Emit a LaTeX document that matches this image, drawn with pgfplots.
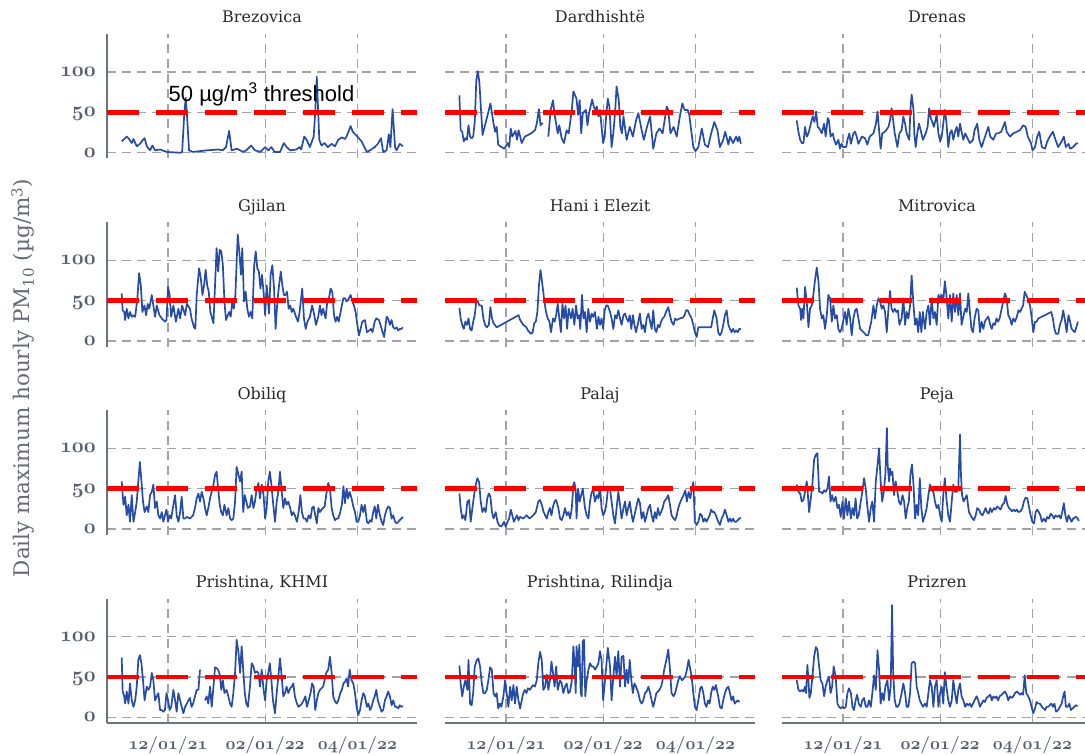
\documentclass[border=0pt]{standalone}
\usepackage{fontspec}
\usepackage{pgfplots}
\pgfplotsset{compat=1.18}
\newfontfamily\titlefont{DejaVu Serif}
\newfontfamily\annofont{Liberation Sans}
\definecolor{lineblue}{RGB}{38,76,168}
\definecolor{gridgray}{RGB}{160,163,170}
\definecolor{axisgray}{RGB}{110,115,125}
\definecolor{tickgray}{RGB}{88,96,112}
\definecolor{titlecol}{RGB}{40,40,40}
\definecolor{labgray}{RGB}{100,106,118}
\newcommand\osn[1]{$\mathnormal{#1}$}
\pgfplotsset{
  panel/.style={
    scale only axis, width=310pt, height=124.4pt,
    xmin=-9, xmax=189, ymin=-7, ymax=147,
    axis lines=left, axis line style={-, draw=axisgray, line width=1.6pt},
    xtick={30,92,151}, ytick={0,50,100},
    xticklabels={}, yticklabels={},
    major tick length=0pt,
    grid=major, major grid style={gridgray, line width=1.2pt, dash pattern=on 9pt off 6pt},
    title style={font=\titlefont\fontsize{16}{18}\selectfont, text=titlecol, at={(0.5,1)}, anchor=base, yshift=5pt},
    unbounded coords=jump,
    ticklabel style={text=tickgray},
    yticklabel style={font=\fontsize{20.74}{22}\selectfont\boldmath, anchor=base east, inner sep=0pt, xshift=-11pt, yshift=-4.5pt},
    xticklabel style={font=\fontsize{17.28}{20}\selectfont\boldmath, anchor=base, inner sep=0pt, yshift=-27pt},
  },
  leftcol/.style={yticklabels={\osn{0},\osn{50},\osn{100}}},
  notleft/.style={y axis line style={draw=none}},
  bottomrow/.style={xticklabels={{$\mathnormal{12}/\mathnormal{01}/\mathnormal{21}$},{$\mathnormal{02}/\mathnormal{01}/\mathnormal{22}$},{$\mathnormal{04}/\mathnormal{01}/\mathnormal{22}$}}},
  notbottom/.style={x axis line style={draw=none}},
  series/.style={lineblue, line width=1.7pt, line join=round, no marks},
  thresh/.style={red, line width=4.7pt, dash pattern=on 32pt off 17pt, no marks},
}
\begin{document}
\begin{tikzpicture}[x=1pt,y=1pt]
\useasboundingbox (0,0) rectangle (1085,755);
\node[rotate=90, font=\titlefont\fontsize{21.5}{24}\selectfont, text=labgray] at (23,377) {Daily maximum hourly PM\textsubscript{10} (µg/m\textsuperscript{3})};
% Row 1
\begin{axis}[panel, leftcol, notbottom, at={(107pt,596.6pt)}, anchor=south west, title={Brezovica}]
\addplot[series] coordinates {(0.4,14)(3.6,20)(4.7,18)(6.8,12)(7.9,17)(10,8)(12,11)(14,16)(15,18)(16.4,8)(18.5,3)(20,9)(21.7,3)(25,4)(29,1)(37.7,0)(39,1)(40.4,50)(41.3,68)(42.3,40)(43.4,3)(46,1)(55,3)(62,4)(65,3)(67,7)(69,27)(70.6,3)(74,5)(78,1)(80,3)(83,9)(85.5,3)(89,1)(92,7)(94,3)(96,7)(98,1)(101.5,1)(104,12)(105.7,7)(108,3)(112,4)(114,7)(115,4)(117,20)(118.5,16)(120.6,7)(123,20)(124,50)(125,94)(126,45)(126.6,16)(128,9)(130,12)(132,7)(134.5,11)(136.6,8)(138.7,16)(141,19)(143,17)(144,20)(146.6,33)(148,26)(150,22)(153.6,14)(157,1)(159,3)(162,7)(164,11)(166,18)(167.4,1)(169.6,3)(171,23)(172,7)(173.4,54)(175,7)(176,3)(178,11)(180,8)};
\addplot[thresh] coordinates {(-9,50)(189,50)};
\node[font=\annofont\fontsize{22}{24}\selectfont, anchor=base] at (axis cs:89.7,64) {50 µg/m\textsuperscript{3} threshold};
\end{axis}
\begin{axis}[panel, notleft, notbottom, at={(445pt,596.6pt)}, anchor=south west, title={Dardhishtë}]
\addplot[series] coordinates {(0.2,71)(1,28)(2,26)(3,14)(4,18)(5,16)(6,34)(7,20)(8,18)(9,20)(10,38)(11,90)(12,101)(13,86)(14,53)(15,22)(16,30)(18,45)(20,61)(21,49)(22,36)(23,26)(24,32)(25,10)(27,7)(29,5)(31,12)(32,7)(33,30)(34,20)(36,27)(37,16)(38,28)(39,20)(40,12)(42,20)(44,22)(46,24)(48.5,28)(49.6,36)(51,54)(52,34)(53.4,37)(55,nan)(57,20)(58.5,53)(60,65)(61,47)(63,24)(64,34)(65.5,18)(67,12)(68.7,28)(70,24)(72,53)(73,76)(75,67)(76,47)(77,65)(78,24)(79,49)(81,53)(82,34)(83,49)(85,66)(86,57)(87,53)(88,57)(89,45)(90,53)(91,32)(92,12)(93,20)(94,47)(95,67)(96,57)(97.4,7)(98.5,24)(99.6,49)(100.6,82)(102,65)(103,32)(104,24)(105,45)(107,16)(109,32)(111,20)(113,40)(114.5,49)(116.6,28)(118,16)(120,32)(122,45)(124,5)(126,24)(128,30)(130,24)(132.6,57)(133.6,53)(135,24)(137,32)(139,20)(141,45)(142.6,61)(144,53)(146,53)(147,47)(148.5,24)(149.6,7)(151,2)(152.8,7)(155,30)(157,10)(159,7)(161,24)(163,38)(165,28)(166.6,7)(168.7,16)(170,26)(172,10)(173,20)(175,12)(177,20)(178,14)(179,20)(180,11)};
\addplot[thresh] coordinates {(-9,50)(189,50)};
\end{axis}
\begin{axis}[panel, notleft, notbottom, at={(782pt,596.6pt)}, anchor=south west, title={Drenas}]
\addplot[series] coordinates {(0.4,40)(1.5,26)(2.6,16)(3.6,12)(4.7,12)(5.7,32)(6.8,20)(7.9,24)(8.9,32)(10.6,45)(11.7,38)(12.8,51)(13.8,32)(14.9,30)(16.4,24)(17.9,36)(18.9,20)(20.2,43)(21,40)(22,20)(23.4,24)(24.3,16)(25.5,10)(27,16)(28,5)(29,11)(30,7)(32,7)(32.8,16)(34,24)(35,11)(36.6,24)(37.7,26)(38.7,20)(39.8,11)(42,20)(44,18)(45.5,10)(47,20)(49.4,24)(51,36)(52,51)(53,28)(54,5)(55,24)(56.8,26)(59,32)(60,40)(61,55)(62,40)(63,24)(64.7,7)(66,24)(67.4,28)(68.5,45)(69.6,36)(70.6,24)(72.3,16)(73,53)(73.8,72)(75,53)(75.5,24)(76.4,7)(77.4,24)(78.5,36)(79.8,26)(81,16)(82.8,24)(84,32)(85,55)(86,43)(87,38)(88,32)(89.8,47)(90.9,24)(92,14)(93,20)(94,36)(95,53)(96,38)(97.2,7)(98.3,24)(99.4,28)(100.4,16)(101.5,26)(102.6,32)(103.6,20)(104.7,36)(105.7,26)(106.8,16)(108,24)(109,20)(111,12)(113,16)(114,28)(115.7,36)(117,16)(118.5,7)(120,16)(121.7,26)(122.8,32)(124,20)(126,16)(127.7,24)(129,24)(131,26)(133.4,38)(134.5,26)(136.6,20)(138.7,24)(141,26)(143,28)(145,34)(146.6,32)(148,20)(150,12)(151,3)(152.6,7)(154,20)(155.3,26)(157,7)(159,5)(160.4,14)(162,20)(164,26)(165.7,16)(167.4,7)(169.6,14)(171,20)(172.3,7)(174,11)(175,5)(177,7)(178.7,11)(180,12)};
\addplot[thresh] coordinates {(-9,50)(189,50)};
\end{axis}
% Row 2
\begin{axis}[panel, leftcol, notbottom, at={(107pt,408.3pt)}, anchor=south west, title={Gjilan}]
\addplot[series] coordinates {(0.4,59)(1,38)(2,36)(2.6,26)(3.6,40)(4.7,28)(5.7,36)(6.8,30)(7.9,32)(9,30)(10.4,53)(11.5,84)(12.6,69)(13.6,36)(14.9,44)(16,32)(17,46)(18,40)(19.6,57)(20.6,44)(21.7,30)(22.8,44)(24.5,32)(26,28)(28,24)(29,26)(30,67)(31,57)(32,30)(33.4,44)(35,24)(36.6,40)(37.7,28)(39,44)(40.9,32)(42,46)(44,40)(45,28)(46.6,17)(47.4,15)(48.3,57)(49.8,90)(50.9,78)(52,57)(53,69)(54,88)(55,69)(56,61)(57,36)(59,22)(60,69)(61,115)(62,86)(63,113)(64,111)(65,94)(66,49)(67,26)(69,36)(70,30)(71,49)(72,40)(73,57)(74.5,132)(75.5,111)(76.6,82)(77.4,115)(78.5,49)(79.6,61)(80.6,40)(81.7,30)(82.8,36)(83.8,28)(85,94)(86,111)(87,90)(88,86)(89,65)(90,82)(91,61)(92,32)(93,69)(94.5,34)(95.5,82)(96.6,94)(97.7,65)(98.7,15)(99.8,49)(100.9,69)(102,86)(103,69)(104,57)(105,57)(106,61)(107,40)(108,44)(109,36)(110,40)(111.7,30)(113,24)(114,36)(115.7,65)(116.8,28)(117.9,15)(119,24)(120.6,30)(122,44)(123,36)(124.5,20)(125.9,30)(127,44)(128,32)(129,40)(130.6,28)(131.7,49)(132.8,53)(133.8,65)(134.9,61)(136,32)(137,24)(138,30)(139,24)(141,44)(142,53)(143,53)(144,49)(145,51)(146.6,57)(147.7,49)(148.7,44)(149.8,36)(150.9,20)(151.9,7)(153,15)(154,24)(155.7,26)(157,11)(158.5,13)(159.6,15)(160.6,11)(162,24)(163,28)(164.7,26)(165.7,20)(167,11)(168,5)(169.6,30)(170.6,28)(171.7,20)(172.8,26)(173.8,17)(175,15)(176,17)(177,13)(178,15)(179,15)(180,17)};
\addplot[thresh] coordinates {(-9,50)(189,50)};
\end{axis}
\begin{axis}[panel, notleft, notbottom, at={(445pt,408.3pt)}, anchor=south west, title={Hani i Elezit}]
\addplot[series] coordinates {(0.2,41)(1,28)(2,20)(3,15)(4,24)(5,20)(6,28)(7,15)(8,13)(9,24)(10,32)(11,49)(12,49)(13,44)(14.5,44)(15.5,28)(16.6,20)(17.7,17)(19,20)(20,42)(21,28)(22,22)(24,17)(38,32)(39,26)(41,20)(43,17)(44,13)(46,9)(47,11)(48,22)(49,24)(50,36)(51,69)(52,88)(53,73)(54.5,49)(55.5,36)(56.6,28)(57.7,24)(58.7,11)(60,28)(61,24)(62,32)(63,46)(64,28)(65,11)(66,46)(67,28)(68,44)(69,15)(70,40)(71.5,28)(72.5,40)(73.6,20)(74.7,44)(75.7,28)(76.6,32)(77.4,15)(78.5,57)(79.4,28)(80.4,36)(81.5,11)(82.5,40)(83.6,24)(84.7,34)(85.7,30)(86.8,36)(88,15)(89,30)(90,20)(91,28)(92,15)(93,38)(94,44)(95,44)(96.4,36)(97.4,28)(98.5,15)(99.6,32)(100.6,28)(101.7,38)(102.8,28)(103.8,20)(105,32)(106,34)(107,28)(108,24)(109,32)(110,15)(111,32)(112,20)(113,11)(114.5,24)(115.5,34)(116.6,15)(117.7,20)(118.7,11)(119.8,28)(120.9,34)(122,24)(123,15)(124,38)(125,15)(126,11)(127,20)(128,17)(129,24)(130,28)(131,30)(132.6,38)(133.6,42)(134.7,32)(135.7,24)(137,20)(138,28)(139,26)(141,28)(143,29)(144,32)(145,38)(146,38)(147.4,32)(148.5,28)(149.6,20)(150.6,11)(151.7,5)(152.8,17)(161,17)(162,28)(163,38)(164.5,28)(165.5,11)(166.6,7)(167.7,11)(168.7,20)(169.8,32)(170.9,38)(172,20)(173,15)(174,11)(175,15)(176,11)(177,13)(178,11)(179,15)(180,15)};
\addplot[thresh] coordinates {(-9,50)(189,50)};
\end{axis}
\begin{axis}[panel, notleft, notbottom, at={(782pt,408.3pt)}, anchor=south west, title={Mitrovica}]
\addplot[series] coordinates {(0.4,66)(1.5,44)(2.6,40)(3.2,26)(4,40)(4.7,28)(5.7,67)(6.8,49)(7.9,17)(8.9,40)(10,44)(11,57)(12,74)(13.2,91)(14.3,74)(15.3,40)(16.4,28)(17.4,32)(18.5,15)(19.6,32)(20.6,57)(21.7,53)(22.8,24)(23.8,44)(24.9,28)(26,32)(27,15)(28,11)(29,15)(30,24)(31.3,36)(32.3,20)(33.4,40)(34.5,28)(35.5,7)(36.6,28)(37.7,38)(38.7,40)(39.8,28)(40.9,15)(43,11)(45,7)(46,7)(47,15)(48,24)(49.4,44)(50.4,28)(51.5,44)(52.6,53)(53.6,49)(54.7,40)(55.7,44)(56.8,36)(57.9,11)(59,40)(60,62)(61,40)(62,36)(63,40)(64,36)(65,38)(66,20)(67.4,28)(68.5,53)(69.6,20)(70.6,36)(71.7,28)(72.8,44)(73.8,81)(75,44)(76,20)(77,28)(78,11)(79,36)(80,11)(81,36)(82.3,15)(83.4,36)(84.5,44)(85.5,20)(86.6,53)(87.7,28)(88.7,36)(89.8,20)(90.9,57)(92,53)(93,57)(94,49)(95,74)(96,57)(97.2,28)(98.3,57)(99.4,24)(100.4,59)(101.5,36)(102.6,57)(103.6,32)(104.7,59)(105.7,20)(106.8,30)(108,40)(109,36)(110,59)(111,36)(112,15)(113,11)(114,28)(115.3,40)(116.4,38)(117.4,11)(118.5,24)(119.6,15)(120.6,24)(121.7,28)(122.8,30)(124,20)(125,15)(126,22)(127,20)(128,28)(129,24)(130,28)(131.3,40)(132.3,49)(133.4,59)(134.5,53)(135.5,32)(136.6,28)(137.7,20)(138.7,28)(139.8,24)(141,30)(142,38)(143,36)(144,40)(145,44)(146,61)(147,57)(148.3,51)(149.4,44)(150.4,30)(151.5,11)(152.6,24)(153.6,24)(154.7,28)(156.8,30)(159,32)(161,34)(163,36)(164,28)(165,15)(166,9)(167.4,9)(168.5,20)(169.6,26)(170.6,38)(171.7,26)(172.8,11)(174,32)(175,24)(176,15)(177,13)(178,11)(179,17)(180,24)};
\addplot[thresh] coordinates {(-9,50)(189,50)};
\end{axis}
% Row 3
\begin{axis}[panel, leftcol, notbottom, at={(107pt,220.3pt)}, anchor=south west, title={Obiliq}]
\addplot[series] coordinates {(0.4,59)(1.5,30)(2.6,40)(3.6,17)(4.7,30)(5.7,9)(6.8,42)(7.9,9)(9,21)(10,34)(11,59)(12,83)(13,59)(14,34)(15,21)(16.4,28)(17.4,21)(18.5,42)(19.6,46)(20.6,55)(21.7,26)(22.8,34)(23.8,17)(24.9,13)(26,21)(27,9)(28,17)(29,24)(30,9)(31,17)(32,13)(33.4,30)(34.5,42)(35.5,17)(36.6,9)(37.7,21)(38.7,40)(39.8,13)(40.9,13)(42,15)(44,13)(46,17)(47.2,26)(48.3,38)(49.4,44)(50.4,34)(51.5,46)(52.6,38)(53.6,26)(54.7,17)(55.7,26)(56.8,38)(59,55)(60,67)(61,71)(62,50)(63,30)(64,21)(65,17)(66,30)(67.4,17)(68.5,26)(69.6,13)(70.6,11)(71.7,13)(72.8,34)(73.8,77)(75,67)(76,59)(77,71)(78,21)(79,42)(80,34)(81,26)(82.3,28)(83.4,42)(84.5,26)(85.5,34)(86.6,50)(87.7,57)(88.7,38)(89.8,55)(91,42)(92,13)(93,26)(94,59)(95,71)(96,55)(97,34)(98.3,9)(99.4,34)(100.4,46)(101.5,71)(102.6,46)(103.6,26)(104.7,38)(105.7,30)(106.8,34)(108,26)(109,17)(110,21)(111,17)(112.3,9)(113.4,21)(114.5,42)(115.5,21)(116.6,13)(117.7,13)(118.7,9)(119.8,17)(121,13)(122,26)(123,28)(124,17)(125,7)(126,26)(127,21)(128,24)(129,26)(130,28)(131,42)(132.3,57)(133.4,50)(134.5,26)(135.5,17)(136.6,11)(137.7,13)(138.7,13)(140,21)(141,30)(142,53)(143,32)(144,50)(145,38)(146,46)(147.2,38)(148.3,28)(149.4,21)(150.4,9)(151.5,9)(152.6,17)(153.6,30)(154.7,21)(155.7,30)(157,9)(158,7)(159,11)(160,9)(161,21)(162,28)(163,13)(164,30)(165.3,17)(166.4,9)(167.4,5)(168.5,17)(169.6,24)(170.6,28)(171.7,26)(172.8,13)(173.8,17)(175,9)(176,7)(177,9)(178,11)(179,13)(180,15)};
\addplot[thresh] coordinates {(-9,50)(189,50)};
\end{axis}
\begin{axis}[panel, notleft, notbottom, at={(445pt,220.3pt)}, anchor=south west, title={Palaj}]
\addplot[series] coordinates {(0.2,44)(1,26)(2,13)(3,17)(4,11)(5.3,34)(6.4,36)(7.4,9)(8.5,26)(9.6,42)(10.6,55)(11.7,63)(12.8,58)(13.8,34)(14.9,21)(16,26)(17,21)(18,38)(19,44)(20,40)(21,21)(22,13)(23.4,21)(24.5,9)(25.5,5)(26.6,3)(27.7,5)(28.7,9)(29.8,3)(30.9,9)(32,13)(33,24)(34,17)(35,9)(36,13)(37,17)(38,11)(39,15)(41,13)(43,17)(45,13)(47.4,17)(49,21)(50.6,34)(51.7,36)(52.8,30)(54,21)(55,17)(56,13)(57,21)(58,26)(59,17)(60,28)(61,34)(62,36)(63.4,26)(64.5,13)(65.5,11)(66.6,17)(67.7,26)(68.7,17)(69.8,21)(70.9,13)(72,26)(73,55)(73.6,58)(74.5,48)(75,13)(76,50)(77,34)(78,42)(79,50)(80.4,26)(81.5,17)(82.6,13)(83.6,34)(84.7,46)(85.7,48)(86.8,34)(88,42)(89,38)(90,53)(91,26)(92,17)(93,21)(94,30)(95,48)(96.4,50)(97.4,34)(98.5,17)(99.6,7)(100.6,26)(101.7,46)(102.8,30)(103.8,13)(105,26)(106,34)(107,17)(108,26)(109,34)(110,20)(111,9)(112,17)(113,26)(114.5,38)(115.5,32)(116.6,13)(117.7,21)(118.7,9)(119.8,17)(120.9,26)(122,30)(123,17)(124,9)(125,21)(126,13)(127,26)(128,17)(129,21)(130,26)(131,34)(132.6,38)(133.6,42)(134.7,30)(135.7,17)(137,13)(138,11)(139,17)(140,26)(141,32)(142.3,38)(143.4,42)(144.5,48)(145.5,34)(146.6,46)(147.7,38)(148.5,48)(149.6,58)(150.6,9)(151.7,5)(152.8,9)(154,19)(155,17)(156,9)(157,13)(158,9)(159,13)(160,17)(161,24)(162,21)(163,21)(164,17)(165.5,9)(166.6,5)(167.7,13)(168.7,17)(169.8,24)(170.9,17)(172,9)(173,13)(174,9)(175,13)(176,9)(177,9)(178,11)(179,13)(180,14)};
\addplot[thresh] coordinates {(-9,50)(189,50)};
\end{axis}
\begin{axis}[panel, notleft, notbottom, at={(782pt,220.3pt)}, anchor=south west, title={Peja}]
\addplot[series] coordinates {(0.4,55)(1.5,46)(2.6,44)(3.6,34)(4.7,36)(5.7,46)(6.8,59)(7.4,46)(8.3,21)(9.4,38)(10.4,55)(11.5,86)(12.6,92)(13.6,94)(14.7,46)(15.7,46)(16.8,44)(17.9,48)(18.9,46)(20,50)(21,65)(22,34)(23,42)(24,34)(25.3,40)(26.4,26)(27.4,30)(28.5,15)(29.6,34)(30.6,13)(31.7,38)(32.8,17)(33.8,34)(35,13)(36,26)(37,17)(38,38)(39,13)(40,17)(41.3,34)(42.3,46)(43.4,63)(44.5,50)(45.5,28)(46.6,9)(47.7,26)(48.7,34)(49.8,9)(50.9,59)(52,79)(53,100)(54,59)(55,34)(56,46)(57,67)(58,125)(58.5,79)(59.4,59)(60,75)(60.6,67)(61.5,71)(62.6,42)(63.6,59)(64.7,46)(65.7,34)(66.8,30)(68,42)(69,34)(70,13)(71,26)(72,34)(73,67)(74,80)(75,55)(76,13)(77,30)(78,17)(79,63)(80,26)(81,9)(82.3,17)(83.4,26)(84.5,42)(85.5,55)(86.6,48)(87.7,46)(88.7,34)(89.8,26)(90.9,30)(92,17)(93,9)(94,42)(95,63)(96,38)(97.2,17)(98.3,9)(99.4,34)(100.4,55)(101.5,46)(102.6,46)(103.6,50)(104.7,117)(105.3,67)(106,42)(107,34)(108,38)(109,42)(110.4,21)(111.5,17)(112.6,13)(113.6,11)(114.7,17)(115.7,26)(116.8,24)(118,19)(119,17)(120,21)(121,26)(122,21)(123,19)(124,26)(125,21)(126.4,26)(127.4,24)(128.5,28)(129.6,26)(130.6,24)(131.7,30)(132.8,32)(133.8,41)(135,30)(136,26)(137,24)(138,22)(139,24)(140,22)(141,24)(142,21)(143.4,22)(144.5,26)(145.5,34)(146.6,39)(147.7,38)(148.7,28)(149.8,17)(150.9,9)(152,7)(153,21)(154,24)(155,21)(156,17)(157,9)(158.3,13)(159.4,9)(160.4,15)(161.5,13)(162.6,19)(163.6,17)(164.7,13)(165.7,17)(166.8,15)(168,17)(169,13)(170,21)(171,32)(172,17)(173,9)(174,17)(175,13)(176,9)(177,13)(178.5,15)(179.6,14)(180.6,10)};
\addplot[thresh] coordinates {(-9,50)(189,50)};
\end{axis}
% Row 4
\begin{axis}[panel, leftcol, bottomrow, at={(107pt,32pt)}, anchor=south west, title={Prishtina, KHMI}]
\addplot[series] coordinates {(0.4,74)(1,32)(2,26)(2.6,17)(3.6,32)(4.7,17)(5.7,42)(6.8,21)(7.9,13)(9,21)(10,38)(11,71)(12,77)(13,67)(14,46)(15,21)(16.4,38)(17.4,34)(18.5,38)(19.6,55)(20.6,46)(21.7,21)(22.8,26)(23.8,30)(24.9,9)(26,9)(27,7)(28,9)(29,30)(30,21)(31,9)(32,13)(33.4,34)(34.5,21)(35.5,7)(36.6,30)(37.7,21)(38.7,13)(39.8,5)(40.9,13)(42,17)(43,21)(44,24)(45,13)(46,17)(47.2,26)(48.3,34)(49.4,34)(50.4,59)(52,nan)(53.6,21)(54.7,26)(55.7,17)(56.8,38)(57.9,13)(59,38)(60,62)(61,61)(62,59)(63,53)(64,34)(65,46)(66,30)(67.4,34)(68.5,26)(69.6,17)(70.6,13)(71.7,30)(72.8,55)(73.8,96)(75,80)(76,55)(77,88)(78,59)(79,30)(80,17)(81,13)(82.3,38)(83.4,67)(84.5,63)(85.5,55)(86.6,57)(87.7,55)(88.7,38)(89.8,59)(91,34)(92,21)(93,46)(94,55)(95,67)(96,46)(97,21)(98.3,5)(99.4,30)(100.4,50)(101.5,73)(102.6,50)(103.6,26)(104.7,30)(105.7,38)(106.8,30)(108,36)(109,38)(110,42)(111,26)(112.3,17)(113.4,13)(114.5,15)(115.5,17)(116.6,21)(117.7,26)(118.7,13)(119.8,21)(121,30)(122,42)(123,38)(124,9)(125,21)(126,30)(127,34)(128,36)(129,38)(130,46)(131,55)(132.3,59)(133.4,75)(134.5,55)(135.5,26)(136.6,20)(137.7,17)(138.7,21)(140,30)(141,34)(142,42)(143,44)(144,48)(145,38)(146,59)(147.2,46)(148.3,42)(149.4,30)(150.4,13)(151.5,3)(152.6,9)(153.6,21)(154.7,30)(155.7,26)(157,13)(158,17)(159,9)(160,13)(161,21)(162,26)(163,34)(164,21)(165.3,13)(166.4,7)(167.4,9)(168.5,21)(169.6,26)(170.6,32)(171.7,26)(172.8,15)(173.8,21)(175,13)(176,13)(177,11)(178,15)(179,13)(180,14)};
\addplot[thresh] coordinates {(-9,50)(189,50)};
\end{axis}
\begin{axis}[panel, notleft, bottomrow, at={(445pt,32pt)}, anchor=south west, title={Prishtina, Rilindja}]
\addplot[series] coordinates {(0.2,64)(1,42)(2,26)(3,38)(4,46)(5.3,34)(6,71)(7,17)(8,15)(9,30)(10,63)(11.3,71)(12.3,73)(13.4,63)(14.5,42)(15.5,30)(16.6,30)(17.7,34)(18.7,46)(19.8,62)(20.9,59)(22,30)(23,26)(24,30)(25,11)(26,17)(27,13)(28.3,26)(29.4,46)(30.4,30)(31.5,13)(32.6,38)(33.6,21)(34.7,40)(35.7,17)(36.8,38)(37.9,21)(39,11)(40,21)(41,30)(42,34)(43,30)(44,36)(45.3,34)(46.4,38)(47.4,40)(48.5,38)(49.6,46)(50.6,67)(51.7,81)(52.8,71)(53.8,34)(54.9,38)(56,53)(57,34)(58,46)(59,69)(60,55)(61,38)(62,63)(63,34)(64.5,46)(65.5,42)(66.6,30)(67.7,38)(68.7,42)(69.8,30)(70.9,32)(72,46)(73,88)(73.6,71)(74.5,30)(75,88)(76,63)(76.8,90)(77.7,30)(78.3,26)(79,94)(79.8,96)(80.6,26)(81.5,46)(82.6,59)(83.6,67)(84.7,63)(85.7,63)(86.8,59)(88,63)(89,67)(90,82)(91,71)(92,21)(93,42)(94,63)(95,86)(96.4,63)(97.4,21)(98.5,50)(99.6,75)(100.6,50)(101.7,82)(102.8,38)(103.8,75)(105,76)(106,38)(107,59)(108,42)(109,71)(110,46)(111,30)(112,42)(113,38)(114.5,30)(115.5,21)(116.6,17)(117.7,21)(118.7,30)(119.8,32)(120.9,38)(122,30)(123,21)(124,13)(125,21)(126,30)(127,32)(128,34)(129,38)(130,46)(131,59)(132.6,73)(133.6,84)(134.7,59)(135.7,30)(137,26)(138,30)(139,38)(140,46)(141,51)(142.3,46)(143.4,48)(144.5,51)(145.5,59)(146.6,71)(147.7,59)(148.5,51)(149.6,30)(150.6,13)(151.7,9)(152.8,21)(154,36)(155,38)(156,30)(157,17)(158,13)(159,21)(160,17)(161,30)(162,38)(163,34)(164,40)(165.5,26)(166.6,13)(167.7,11)(168.7,21)(169.8,30)(170.9,36)(172,38)(173,30)(174,21)(175,26)(176,17)(177,19)(178,21)(179,19)};
\addplot[thresh] coordinates {(-9,50)(189,50)};
\end{axis}
\begin{axis}[panel, notleft, bottomrow, at={(782pt,32pt)}, anchor=south west, title={Prizren}]
\addplot[series] coordinates {(0.4,46)(1.5,34)(2.6,32)(3.6,34)(4.7,32)(5.7,38)(6.4,30)(7.2,65)(7.9,46)(8.5,24)(9.4,30)(10.4,50)(11.5,75)(12.6,87)(13.6,84)(14.7,63)(15.7,46)(16.8,42)(17.9,26)(18.9,38)(20,46)(21,50)(22,30)(23,38)(24,63)(25.3,50)(26.4,17)(27.4,13)(28.5,11)(29.6,13)(30.6,11)(31.7,13)(32.8,30)(33.8,36)(35,30)(36,13)(37,9)(38,21)(39,28)(40,17)(41.3,13)(42.3,21)(43.4,24)(44.5,13)(45.5,13)(46.6,21)(47.7,13)(48.7,30)(49.8,52)(50.9,34)(52,83)(53,59)(54,17)(55,30)(56,21)(57,38)(58.3,46)(59.4,21)(60.4,38)(61.3,139)(62,55)(63,21)(64,13)(65,13)(66,17)(67.4,30)(68.5,42)(69.6,30)(70.6,13)(71.7,13)(72.8,30)(73.8,67)(75,69)(76,67)(77,38)(78,30)(79,21)(80,17)(81,13)(82.3,17)(83.4,13)(84.5,30)(85.5,46)(86.6,38)(87.7,13)(88.7,38)(89.8,46)(90.9,13)(92,30)(93,38)(94,17)(95,56)(96,38)(97.2,21)(98.3,13)(99.4,21)(100.4,46)(101.5,30)(102.6,17)(103.6,34)(104.7,42)(105.7,26)(106.8,21)(108,13)(109,17)(110,15)(111,17)(112,13)(113,17)(114,21)(115.3,26)(116.4,21)(117.4,13)(118.5,17)(119.6,21)(120.6,19)(121.7,24)(122.8,26)(124,28)(125,21)(126,26)(127,24)(128,26)(129,21)(130,26)(131.3,28)(132.3,30)(133.4,32)(134.5,28)(135.5,21)(136.6,26)(137.7,24)(138.7,26)(139.8,30)(141,32)(142,30)(143,28)(144,30)(145,28)(146,52)(147,30)(148.3,26)(149.4,21)(150.4,13)(151.5,5)(152.6,11)(153.6,19)(154.7,17)(155.7,17)(157,13)(158,11)(159,9)(160,13)(161,13)(162,15)(163,17)(164,13)(165,17)(166,7)(167.4,9)(168.5,13)(169.6,17)(170.6,26)(171.5,32)(172.3,13)(173.4,13)(174.5,17)(175.5,9)(176.6,11)(177.7,13)(178.7,15)(179.8,14)};
\addplot[thresh] coordinates {(-9,50)(189,50)};
\end{axis}
\end{tikzpicture}
\end{document}
